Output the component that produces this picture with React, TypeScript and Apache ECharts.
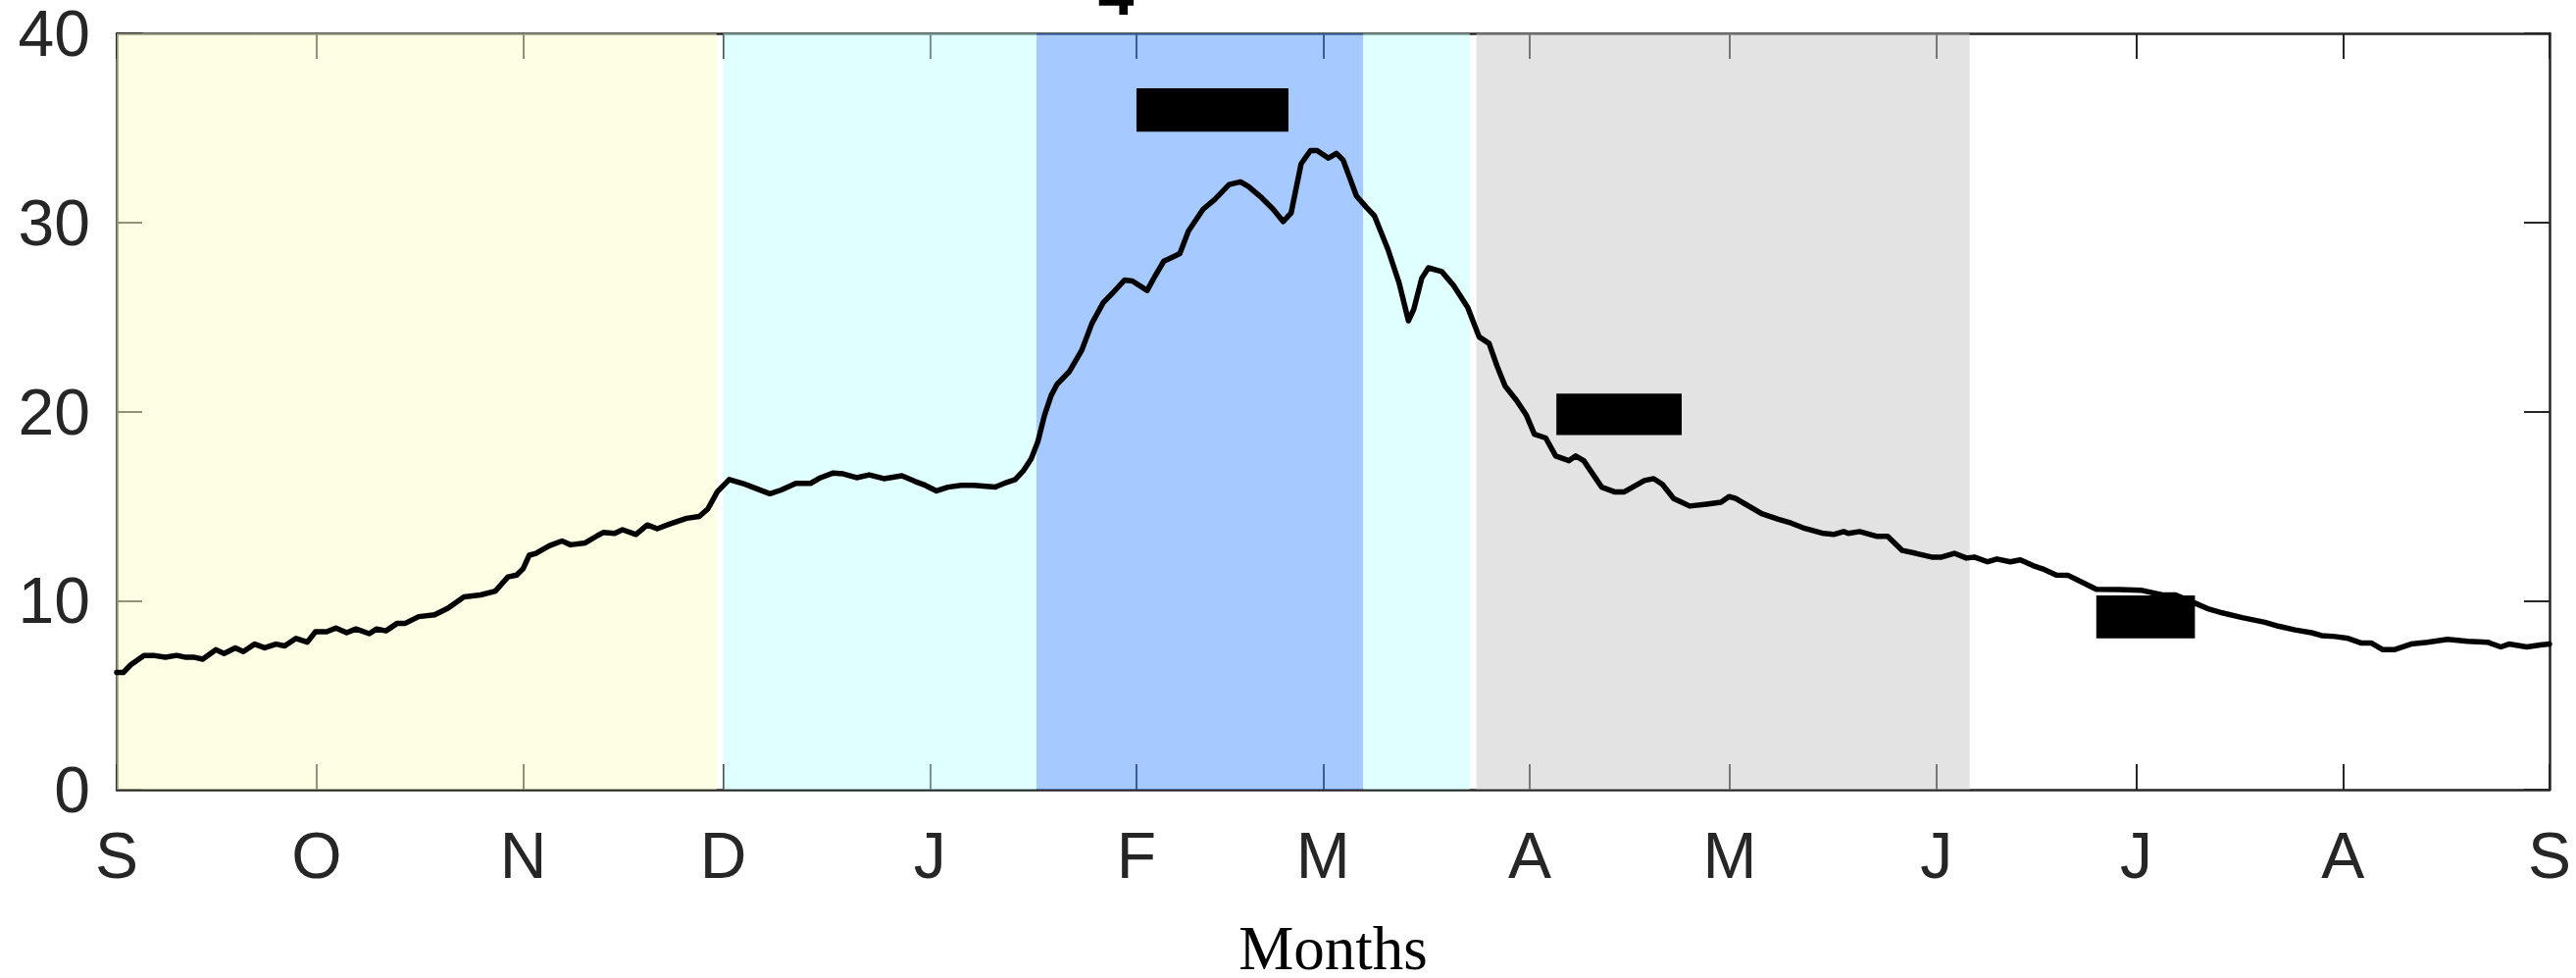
import React, { useEffect, useRef } from "react";
import * as echarts from "echarts";

// ---- data ----
const monthStarts = [0, 30, 61, 91, 122, 153, 181, 212, 242, 273, 303, 334, 365];
const monthLabels = ["S", "O", "N", "D", "J", "F", "M", "A", "M", "J", "J", "A", "S"];
const dayCategories = Array.from({ length: 366 }, (_, i) => String(i));

const curveDays = [
  0, 1, 2.1, 4.1, 5.5, 7.3, 9.0, 10.4, 11.7, 12.9, 14.9, 16.1, 17.8, 19.0, 20.7, 22.2, 23.9, 25.2, 26.9, 28.6,
  29.8, 31.5, 32.9, 34.5, 35.9, 37.9, 39.0, 40.4, 42.1, 43.3, 45.3, 47.7, 49.7, 52.1, 54.6, 56.8, 58.7, 60.0,
  61.0, 61.9, 62.9, 64.9, 66.8, 68.1, 70.3, 72.2, 73.0, 74.7, 75.9, 77.9, 79.6, 81.1, 83.0, 85.5, 87.4, 88.7,
  90.1, 91.9, 94.3, 98.0, 99.7, 101.9, 104.1, 105.6, 107.5, 109.0, 111.0, 112.9, 115.1, 117.8, 119.8, 121.3,
  123.0, 124.7, 126.7, 128.6, 131.8, 133.5, 134.8, 136.0, 137.2, 138.2, 139.2, 140.2, 141.1, 142.9, 144.8,
  146.3, 148.0, 149.5, 151.2, 152.4, 154.6, 155.6, 157.1, 158.3, 159.5, 160.8, 163.0, 164.7, 166.9, 168.6,
  169.8, 171.8, 173.5, 175.0, 176.2, 177.7, 179.1, 180.1, 181.8, 183.0, 184.0, 186.0, 187.5, 188.7, 190.7,
  192.4, 193.8, 194.6, 195.8, 196.8, 198.8, 200.5, 202.7, 204.4, 205.9, 207.1, 208.3, 210.0, 211.5, 212.7,
  214.4, 215.9, 217.9, 218.9, 220.1, 222.8, 224.7, 226.2, 229.2, 230.6, 231.9, 233.6, 236.0, 238.5, 240.7,
  241.9, 242.9, 246.8, 249.3, 251.2, 253.0, 256.1, 257.6, 259.1, 259.8, 261.5, 264.0, 265.7, 267.9, 269.9,
  272.3, 273.8, 275.7, 277.5, 278.7, 280.7, 282.1, 284.1, 285.6, 287.5, 289.0, 291.0, 292.8, 295.0, 297.0,
  300.5, 303.7, 306.9, 308.9, 311.9, 313.9, 315.9, 318.9, 322.3, 324.3, 326.8, 329.3, 330.8, 332.8, 334.8,
  336.8, 338.3, 340.0, 341.7, 344.2, 346.7, 349.7, 352.7, 355.7, 357.7, 358.9, 361.6, 363.6, 365,
];
const curveValues = [
  6.2, 6.2, 6.6, 7.1, 7.1, 7.0, 7.1, 7.0, 7.0, 6.9, 7.4, 7.2, 7.5, 7.3, 7.7, 7.5, 7.7, 7.6, 8.0, 7.8,
  8.35, 8.35, 8.55, 8.3, 8.5, 8.25, 8.5, 8.4, 8.8, 8.8, 9.15, 9.25, 9.6, 10.2, 10.3, 10.5, 11.25, 11.35,
  11.7, 12.4, 12.5, 12.9, 13.15, 12.95, 13.05, 13.45, 13.6, 13.55, 13.75, 13.5, 14.0, 13.8, 14.05, 14.35, 14.45, 14.85,
  15.75, 16.4, 16.15, 15.65, 15.85, 16.2, 16.2, 16.5, 16.75, 16.7, 16.5, 16.65, 16.45, 16.6, 16.3, 16.1,
  15.8, 16.0, 16.1, 16.1, 16.0, 16.25, 16.4, 16.85, 17.5, 18.4, 19.8, 20.85, 21.45, 22.1, 23.25,
  24.65, 25.75, 26.3, 26.95, 26.9, 26.4, 27.05, 27.95, 28.15, 28.35, 29.55, 30.7, 31.2, 32.0, 32.15,
  31.9, 31.3, 30.7, 30.05, 30.5, 33.1, 33.8, 33.8, 33.4, 33.65, 33.3, 31.4, 30.8, 30.35, 28.6,
  26.8, 24.8, 25.4, 27.05, 27.6, 27.4, 26.7, 25.5, 23.95, 23.6, 22.4, 21.35, 20.6, 19.8, 18.8,
  18.6, 17.65, 17.4, 17.65, 17.4, 16.0, 15.75, 15.75, 16.35, 16.45, 16.15, 15.4, 15.0, 15.1, 15.2,
  15.5, 15.4, 14.6, 14.3, 14.1, 13.85, 13.55, 13.5, 13.65, 13.55, 13.65, 13.4, 13.4, 12.65, 12.5,
  12.3, 12.3, 12.5, 12.25, 12.3, 12.05, 12.2, 12.05, 12.15, 11.85, 11.67, 11.35, 11.33, 10.95, 10.6,
  10.58, 10.55, 10.3, 10.3, 9.85, 9.55, 9.35, 9.1, 8.85, 8.65, 8.45, 8.3, 8.15, 8.1, 8.0,
  7.75, 7.75, 7.4, 7.4, 7.7, 7.8, 7.95, 7.85, 7.8, 7.55, 7.7, 7.55, 7.65, 7.7,
];

// shaded periods (day ranges)
const periodStart = [0, 91, 138, 187, 204];
const periodEnd = [90, 138, 187, 203, 278];

// black bars: [startDay, endDay, low, high]
const barStart = [153, 216, 297];
const barEnd = [175.8, 234.8, 311.8];
const barLow = [34.8, 18.75, 8.0];
const barHigh = [37.1, 20.95, 10.27];

const yTicks = [0, 10, 20, 30, 40];

// ---- styles ----
const periodColors = [
  "rgba(253,253,203,0.5)",
  "rgba(193,255,255,0.5)",
  "rgba(77,149,255,0.5)",
  "rgba(193,255,255,0.5)",
  "rgba(199,199,199,0.5)",
];
const AXIS_COLOR = "#262626";
const SANS = "Arial, 'Liberation Sans', Helvetica, sans-serif";
const SERIF = "'Times New Roman', 'Liberation Serif', serif";

export default function App() {
  const ref = useRef<HTMLDivElement>(null);

  useEffect(() => {
    if (!ref.current) return;
    const chart = echarts.init(ref.current, undefined, { renderer: "svg" });

    const isMonthStart = (index: number) => monthStarts.indexOf(index) >= 0;
    const monthFormatter = (value: string) => {
      const i = monthStarts.indexOf(Number(value));
      return i >= 0 ? monthLabels[i] : "";
    };

    const lineData = curveDays.map((d, i) => [d, curveValues[i]]);
    const barData = barStart.map((s, i) => [s, barEnd[i], barLow[i], barHigh[i]]);
    const areaData = periodStart.map((s, i) => [
      { xAxis: s, itemStyle: { color: periodColors[i] } },
      { xAxis: periodEnd[i] },
    ]);

    const tickStyle = { show: true, inside: true, length: 26, lineStyle: { color: AXIS_COLOR, width: 2 } };
    const lineStyleAxis = { show: true, onZero: false, lineStyle: { color: AXIS_COLOR, width: 2.5 } };

    chart.setOption({
      animation: false,
      backgroundColor: "#ffffff",
      grid: { left: 119, right: 27, top: 34, bottom: 192, outerBoundsMode: "none", containLabel: false },
      graphic: [
        {
          type: "text",
          x: 1138,
          y: -8,
          style: {
            text: "4",
            fill: "#000",
            fontSize: 66,
            fontWeight: "bold",
            fontFamily: SANS,
            align: "center",
            verticalAlign: "middle",
            textAlign: "center",
            textVerticalAlign: "middle",
          },
        },
      ],
      xAxis: [
        {
          type: "value",
          min: 0,
          max: 365,
          show: false,
          splitLine: { show: false },
        },
        {
          type: "category",
          data: dayCategories,
          boundaryGap: false,
          position: "bottom",
          axisLine: lineStyleAxis,
          axisTick: { ...tickStyle, interval: (index: number) => isMonthStart(index) },
          axisLabel: {
            interval: (index: number) => isMonthStart(index),
            formatter: monthFormatter,
            fontSize: 66,
            lineHeight: 56,
            fontFamily: SANS,
            color: AXIS_COLOR,
            margin: 39,
          },
          splitLine: { show: false },
          name: "Months",
          nameLocation: "middle",
          nameGap: 135,
          nameTextStyle: { fontFamily: SERIF, fontSize: 63, lineHeight: 54, color: "#000" },
        },
        {
          type: "category",
          data: dayCategories,
          boundaryGap: false,
          position: "top",
          axisLine: lineStyleAxis,
          axisTick: { ...tickStyle, interval: (index: number) => isMonthStart(index) },
          axisLabel: { show: false },
          splitLine: { show: false },
        },
      ],
      yAxis: [
        {
          type: "value",
          min: yTicks[0],
          max: yTicks[yTicks.length - 1],
          interval: 10,
          position: "left",
          axisLine: lineStyleAxis,
          axisTick: tickStyle,
          axisLabel: { fontSize: 66, lineHeight: 54, fontFamily: SANS, color: AXIS_COLOR, margin: 27 },
          splitLine: { show: false },
        },
        {
          type: "value",
          min: yTicks[0],
          max: yTicks[yTicks.length - 1],
          interval: 10,
          position: "right",
          axisLine: lineStyleAxis,
          axisTick: tickStyle,
          axisLabel: { show: false },
          splitLine: { show: false },
        },
      ],
      series: [
        {
          type: "line",
          xAxisIndex: 0,
          yAxisIndex: 0,
          data: lineData,
          showSymbol: false,
          symbol: "none",
          smooth: false,
          z: 3,
          lineStyle: { color: "#000", width: 5.5, join: "round", cap: "round" },
          markArea: {
            silent: true,
            z: 1,
            itemStyle: { borderWidth: 0 },
            data: areaData,
          },
        },
        {
          type: "custom",
          xAxisIndex: 0,
          yAxisIndex: 0,
          z: 4,
          silent: true,
          data: barData,
          encode: { x: [0, 1], y: [2, 3] },
          renderItem: (params: any, api: any) => {
            const p1 = api.coord([api.value(0), api.value(3)]);
            const p2 = api.coord([api.value(1), api.value(2)]);
            return {
              type: "rect",
              shape: { x: p1[0], y: p1[1], width: p2[0] - p1[0], height: p2[1] - p1[1] },
              style: { fill: "#000" },
            };
          },
        },
      ],
    });

    return () => chart.dispose();
  }, []);

  return (
    <div
      ref={ref}
      style={{ position: "absolute", left: 0, top: 0, width: 2627, height: 997, background: "#fff" }}
    />
  );
}
